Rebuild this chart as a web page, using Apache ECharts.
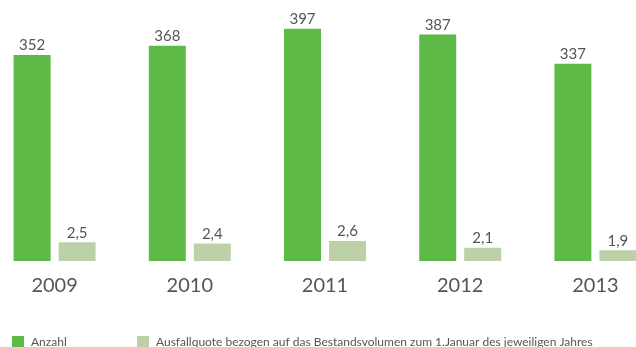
<!DOCTYPE html>
<html>
<head>
<meta charset="utf-8">
<script src="https://cdn.jsdelivr.net/npm/echarts@6/dist/echarts.min.js"></script>
<style>
  html, body { margin: 0; padding: 0; background: #fff; overflow: hidden; width: 636px; height: 347px; }
  /* the plot bands run slightly past both page edges */
  #chart { position: absolute; left: -13px; top: 0; width: 676px; height: 347px; }
</style>
</head>
<body>
<div id="chart"></div>
<script>
// Jahre und Werte
const years = ['2009', '2010', '2011', '2012', '2013'];
const anzahl = [352, 368, 397, 387, 337];
const ausfallquote = [2.5, 2.4, 2.6, 2.1, 1.9];
const seriesNames = ['Anzahl', 'Ausfallquote bezogen auf das Bestandsvolumen zum 1.Januar des jeweiligen Jahres'];

const FONT = 'Lato, "Open Sans", sans-serif';
const TEXT = '#555555';
const SHIFT = 13; // chart container offset to the left

const chart = echarts.init(document.getElementById('chart'), null, { renderer: 'canvas' });

chart.setOption({
  animation: false,
  textStyle: { fontFamily: FONT },
  grid: { left: 0, right: 0, top: 27, height: 234, containLabel: false },
  legend: [
    {
      data: [seriesNames[0]], left: 12 + SHIFT, top: 336, padding: 0,
      itemWidth: 12, itemHeight: 12, icon: 'rect',
      textStyle: { fontFamily: FONT, fontSize: 12, color: TEXT, padding: [0, 0, 0, 2] }
    },
    {
      data: [seriesNames[1]], left: 137 + SHIFT, top: 336, padding: 0,
      itemWidth: 12, itemHeight: 12, icon: 'rect',
      textStyle: { fontFamily: FONT, fontSize: 12, color: TEXT, padding: [0, 0, 0, 2] }
    }
  ],
  xAxis: {
    type: 'category',
    data: years,
    axisLine: { show: false },
    axisTick: { show: false },
    axisLabel: { fontFamily: FONT, fontSize: 20, color: TEXT, margin: 15 }
  },
  yAxis: [
    { type: 'value', min: 0, max: 400, show: false, splitLine: { show: false } },
    { type: 'value', min: 1.1, max: 18.6, show: false, splitLine: { show: false } }
  ],
  series: [
    {
      name: seriesNames[0], type: 'bar', yAxisIndex: 0, data: anzahl,
      barWidth: 37, barGap: '21.6%',
      itemStyle: { color: '#5dba47' },
      label: { show: true, position: 'top', distance: 2, fontFamily: FONT, fontSize: 15, color: TEXT }
    },
    {
      name: seriesNames[1], type: 'bar', yAxisIndex: 1, data: ausfallquote,
      barWidth: 37, clip: true,
      itemStyle: { color: '#bdd1a9' },
      label: {
        show: true, position: 'top', distance: 2, fontFamily: FONT, fontSize: 15, color: TEXT,
        formatter: p => String(p.value).replace('.', ',')
      }
    }
  ]
});
</script>
</body>
</html>
